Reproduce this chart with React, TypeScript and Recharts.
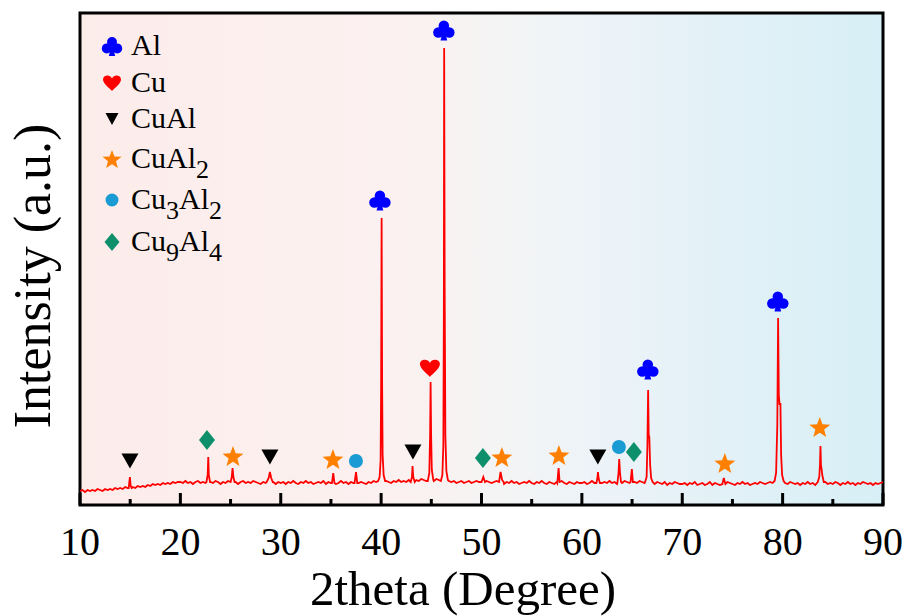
import React from "react"
import { ComposedChart, Line, Scatter, XAxis, YAxis, ReferenceArea, Legend } from "recharts"

const serif = "'Times New Roman', 'Liberation Serif', Times, serif"

// scan grid: 10° .. 90°, 0.25° step
const SCAN_START = 10
const SCAN_STEP = 0.25

// background intensity (a.u.), 40 readings per 10°
const bg10 = [14, 15, 13, 15, 14, 15, 14, 16, 15, 14, 16, 15, 16, 15, 17, 16, 17, 16, 18, 17, 17, 18, 17, 19, 18, 19, 18, 20, 19, 21, 20, 21, 20, 22, 21, 22, 21, 23, 22, 23]
const bg20 = [23, 22, 24, 22, 23, 21, 23, 24, 22, 23, 22, 24, 23, 22, 24, 23, 21, 23, 22, 24, 23, 22, 23, 21, 23, 24, 22, 23, 22, 24, 23, 22, 21, 23, 22, 24, 22, 23, 21, 23]
const bg30 = [22, 23, 21, 23, 22, 24, 22, 21, 23, 22, 24, 22, 23, 21, 22, 23, 22, 24, 21, 23, 22, 23, 21, 22, 24, 22, 23, 21, 23, 22, 24, 22, 23, 22, 21, 23, 22, 24, 23, 24]
const bg40 = [23, 22, 24, 23, 22, 24, 23, 25, 23, 24, 23, 25, 24, 23, 25, 24, 26, 25, 24, 26, 25, 24, 26, 25, 24, 23, 25, 24, 23, 24, 22, 23, 24, 22, 23, 24, 22, 23, 24, 23]
const bg50 = [23, 22, 24, 23, 22, 23, 24, 22, 23, 21, 23, 22, 24, 22, 23, 21, 22, 23, 22, 24, 22, 21, 23, 22, 24, 22, 21, 23, 22, 21, 23, 22, 24, 22, 21, 23, 22, 21, 23, 22]
const bg60 = [22, 23, 21, 22, 24, 22, 23, 21, 22, 23, 22, 24, 22, 23, 21, 23, 22, 24, 23, 22, 24, 23, 22, 24, 23, 22, 24, 23, 22, 21, 23, 22, 21, 23, 20, 22, 21, 23, 22, 21]
const bg70 = [21, 22, 20, 22, 21, 23, 20, 21, 22, 20, 21, 23, 20, 22, 21, 20, 22, 21, 23, 22, 21, 20, 22, 21, 23, 21, 22, 20, 21, 22, 21, 23, 22, 21, 22, 23, 22, 24, 23, 24]
const bg80 = [23, 22, 21, 23, 22, 21, 22, 20, 22, 21, 23, 21, 22, 20, 22, 21, 22, 23, 21, 22, 21, 23, 22, 20, 22, 21, 23, 21, 22, 20, 22, 21, 23, 22, 21, 22, 20, 22, 21, 22, 23]

// peak profiles [2theta, intensity]
const peak15 = [[14.85, 17], [14.97, 28], [15.05, 19], [15.15, 17]]
const peak22 = [[22.6, 23], [22.72, 30], [22.78, 48], [22.83, 30], [22.95, 23]]
const peak25 = [[25.0, 23], [25.12, 28], [25.2, 37], [25.28, 28], [25.4, 23]]
const peak29 = [[28.6, 23], [28.8, 27], [28.92, 33], [29.05, 27], [29.2, 23]]
const peak35 = [[35.1, 22], [35.23, 32], [35.35, 22]]
const peak37 = [[37.35, 22], [37.5, 33], [37.62, 22]]
const peak40 = [[39.7, 24], [39.85, 28], [39.95, 45], [40.0, 120], [40.05, 287], [40.1, 120], [40.15, 50], [40.25, 30], [40.4, 24]]
const peak43 = [[42.95, 23], [43.07, 28], [43.13, 39], [43.2, 28], [43.35, 23]]
const peak45 = [[44.65, 24], [44.8, 32], [44.88, 70], [44.93, 123], [44.98, 70], [45.05, 35], [45.2, 25]]
const peak46 = [[45.95, 24], [46.1, 30], [46.2, 60], [46.25, 200], [46.28, 457], [46.33, 220], [46.4, 70], [46.5, 34], [46.65, 25]]
const peak50 = [[50.0, 23], [50.18, 28], [50.35, 23]]
const peak52 = [[51.75, 23], [51.9, 33], [52.05, 25], [52.2, 23]]
const peak58 = [[57.55, 22], [57.68, 37], [57.78, 23]]
const peak62 = [[61.45, 22], [61.55, 27], [61.6, 33], [61.68, 26], [61.8, 22]]
const peak64 = [[63.55, 23], [63.65, 32], [63.72, 46], [63.8, 32], [63.9, 23]]
const peak65 = [[64.85, 23], [64.98, 36], [65.08, 23]]
const peak67 = [[66.3, 23], [66.45, 28], [66.53, 60], [66.6, 115], [66.66, 70], [66.72, 68], [66.8, 40], [66.9, 27], [67.05, 23]]
const peak74 = [[74.0, 21], [74.14, 27], [74.3, 21]]
const peak80 = [[79.2, 24], [79.35, 32], [79.47, 80], [79.55, 187], [79.62, 110], [79.7, 100], [79.78, 102], [79.85, 50], [79.95, 30], [80.1, 24]]
const peak84 = [[83.5, 23], [83.65, 28], [83.72, 40], [83.77, 59], [83.82, 40], [83.88, 36], [83.95, 30], [84.1, 23]]

const peaks = [peak15, peak22, peak25, peak29, peak35, peak37, peak40, peak43, peak45, peak46, peak50, peak52, peak58, peak62, peak64, peak65, peak67, peak74, peak80, peak84]

// phase markers [2theta, intensity]
const alMarks = [[39.88, 305], [46.25, 475], [66.57, 136], [79.52, 204]]
const cuMarks = [[44.86, 137]]
const cuAlMarks = [[14.98, 44], [28.92, 48], [43.17, 53], [61.59, 48]]
const cuAl2Marks = [[25.24, 49], [35.2, 46], [52.03, 48], [57.71, 50], [74.24, 42], [83.7, 78]]
const cu3Al2Marks = [[37.49, 44], [63.69, 58]]
const cu9Al4Marks = [[22.65, 65], [50.14, 47], [65.18, 53]]

const xTicks = [10, 15, 20, 25, 30, 35, 40, 45, 50, 55, 60, 65, 70, 75, 80, 85, 90]

const background = [...bg10, ...bg20, ...bg30, ...bg40, ...bg50, ...bg60, ...bg70, ...bg80].map((y, i) => ({
  x: SCAN_START + i * SCAN_STEP,
  y,
}))
const windows = peaks.map((p) => [p[0][0], p[p.length - 1][0]])
const scan = [
  ...background.filter((pt) => !windows.some(([a, b]) => pt.x >= a && pt.x <= b)),
  ...peaks.flat().map(([x, y]) => ({ x, y })),
].sort((a, b) => a.x - b.x)

const toPts = (arr: number[][]) => arr.map(([x, y]) => ({ x, y }))

// ---- symbols ----
function Club({ cx, cy, s, color }: any) {
  const r = 0.25 * s
  return (
    <g fill={color}>
      <circle cx={cx} cy={cy - 0.2 * s} r={r} />
      <circle cx={cx - 0.26 * s} cy={cy + 0.12 * s} r={r} />
      <circle cx={cx + 0.26 * s} cy={cy + 0.12 * s} r={r} />
      <path d={`M${cx - 0.05 * s},${cy + 0.05 * s} L${cx - 0.16 * s},${cy + 0.5 * s} L${cx + 0.16 * s},${cy + 0.5 * s} L${cx + 0.05 * s},${cy + 0.05 * s} Z`} />
    </g>
  )
}

function Heart({ cx, cy, s, color }: any) {
  const h = s / 2
  const d = `M${cx},${cy + 0.9 * h}
    C${cx - 0.2 * h},${cy + 0.6 * h} ${cx - h},${cy + 0.1 * h} ${cx - h},${cy - 0.4 * h}
    C${cx - h},${cy - 0.9 * h} ${cx - 0.2 * h},${cy - h} ${cx},${cy - 0.5 * h}
    C${cx + 0.2 * h},${cy - h} ${cx + h},${cy - 0.9 * h} ${cx + h},${cy - 0.4 * h}
    C${cx + h},${cy + 0.1 * h} ${cx + 0.2 * h},${cy + 0.6 * h} ${cx},${cy + 0.9 * h} Z`
  return <path d={d} fill={color} />
}

function TriDown({ cx, cy, w, h, color }: any) {
  return <path d={`M${cx - w / 2},${cy - h / 2} L${cx + w / 2},${cy - h / 2} L${cx},${cy + h / 2} Z`} fill={color} />
}

function Star({ cx, cy, R, color }: any) {
  const c = cy + 0.095 * R
  const pts: string[] = []
  for (let i = 0; i < 10; i++) {
    const r = i % 2 === 0 ? R : R * 0.42
    const a = -Math.PI / 2 + (i * Math.PI) / 5
    pts.push(`${cx + r * Math.cos(a)},${c + r * Math.sin(a)}`)
  }
  return <path d={`M${pts.join("L")}Z`} fill={color} />
}

function Dot({ cx, cy, r, color }: any) {
  return <circle cx={cx} cy={cy} r={r} fill={color} />
}

function Diamond({ cx, cy, w, h, color }: any) {
  return <path d={`M${cx},${cy - h / 2} L${cx + w / 2},${cy} L${cx},${cy + h / 2} L${cx - w / 2},${cy} Z`} fill={color} />
}

const BLUE = "#0000ff"
const RED = "#ff0000"
const ORANGE = "#ff8000"
const CYAN = "#1a9bd4"
const GREEN = "#0e8f6c"

// ---- legend ----
const legendRows = [
  { label: [["Al", false]], icon: (cx: number, cy: number) => <Club cx={cx} cy={cy} s={20} color={BLUE} /> },
  { label: [["Cu", false]], icon: (cx: number, cy: number) => <Heart cx={cx} cy={cy} s={18} color={RED} /> },
  { label: [["CuAl", false]], icon: (cx: number, cy: number) => <TriDown cx={cx} cy={cy} w={13} h={12} color="#000" /> },
  { label: [["CuAl", false], ["2", true]], icon: (cx: number, cy: number) => <Star cx={cx} cy={cy} R={10} color={ORANGE} /> },
  { label: [["Cu", false], ["3", true], ["Al", false], ["2", true]], icon: (cx: number, cy: number) => <Dot cx={cx} cy={cy} r={6.5} color={CYAN} /> },
  { label: [["Cu", false], ["9", true], ["Al", false], ["4", true]], icon: (cx: number, cy: number) => <Diamond cx={cx} cy={cy} w={15} h={18} color={GREEN} /> },
]
const legendBaselines = [42, 79, 115, 155, 196, 238]

function PhaseLegend() {
  return (
    <svg width={260} height={260} style={{ display: "block" }}>
      {legendRows.map((row, i) => {
        const base = legendBaselines[i]
        let sub = false
        return (
          <g key={i}>
            {row.icon(32, base - 9)}
            <text x={51} y={base} fontSize={30} fontFamily={serif} fill="#000">
              {row.label.map(([t, isSub], j) => {
                const dy = isSub && !sub ? 10 : !isSub && sub ? -10 : 0
                sub = isSub as boolean
                return (
                  <tspan key={j} dy={dy} fontSize={isSub ? 26 : 30}>
                    {t as string}
                  </tspan>
                )
              })}
            </text>
          </g>
        )
      })}
    </svg>
  )
}

function XTick({ x, y, payload }: any) {
  const major = payload.value % 10 === 0
  return (
    <g>
      <line x1={x} x2={x} y1={y} y2={y - (major ? 12 : 6)} stroke="#000" strokeWidth={3} />
      {major && (
        <text x={x} y={y + 50} textAnchor="middle" fontSize={40} fontFamily={serif} fill="#000">
          {payload.value}
        </text>
      )}
    </g>
  )
}

function AxisTitles() {
  return (
    <g>
      <text x={463} y={605} textAnchor="middle" fontSize={49} fontFamily={serif} fill="#000">
        2theta (Degree)
      </text>
      <text x={50} y={276} transform="rotate(-90 50 276)" textAnchor="middle" fontSize={52} fontFamily={serif} fill="#000">
        Intensity (a.u.)
      </text>
    </g>
  )
}

function Background({ x, y, width, height }: any) {
  return (
    <g>
      <defs>
        <linearGradient id="xrdBg" x1="0" y1="0" x2="1" y2="0">
          <stop offset="0" stopColor="#fcecea" />
          <stop offset="0.4" stopColor="#fbf1f0" />
          <stop offset="0.52" stopColor="#f4f4f4" />
          <stop offset="0.65" stopColor="#ecf3f8" />
          <stop offset="0.82" stopColor="#e1f1f7" />
          <stop offset="1" stopColor="#d7eff6" />
        </linearGradient>
      </defs>
      <rect x={x} y={y} width={width} height={height} fill="url(#xrdBg)" />
    </g>
  )
}

export default function App() {
  return (
    <div style={{ position: "absolute", left: 0, top: 0 }}>
      <ComposedChart width={911} height={616} data={scan} margin={{ top: 13, right: 28, bottom: 51, left: 80 }}>
        <XAxis
          type="number"
          dataKey="x"
          domain={[10, 90]}
          ticks={xTicks}
          interval={0}
          tickSize={0}
          tickMargin={0}
          tickLine={false}
          axisLine={false}
          tick={<XTick />}
          height={60}
          allowDataOverflow
          label={{ content: () => <AxisTitles /> }}
        />
        <YAxis type="number" dataKey="y" domain={[0, 492]} hide allowDataOverflow />
        <ReferenceArea x1={10} x2={90} y1={0} y2={492} shape={<Background />} />
        <Line type="linear" dataKey="y" stroke={RED} strokeWidth={1.8} dot={false} isAnimationActive={false} />
        <Scatter data={toPts(alMarks)} dataKey="y" isAnimationActive={false} shape={(p: any) => <Club cx={p.cx} cy={p.cy} s={21} color={BLUE} />} />
        <Scatter data={toPts(cuMarks)} dataKey="y" isAnimationActive={false} shape={(p: any) => <Heart cx={p.cx} cy={p.cy} s={20} color={RED} />} />
        <Scatter data={toPts(cuAlMarks)} dataKey="y" isAnimationActive={false} shape={(p: any) => <TriDown cx={p.cx} cy={p.cy} w={17} h={15} color="#000" />} />
        <Scatter data={toPts(cuAl2Marks)} dataKey="y" isAnimationActive={false} shape={(p: any) => <Star cx={p.cx} cy={p.cy} R={11} color={ORANGE} />} />
        <Scatter data={toPts(cu3Al2Marks)} dataKey="y" isAnimationActive={false} shape={(p: any) => <Dot cx={p.cx} cy={p.cy} r={7} color={CYAN} />} />
        <Scatter data={toPts(cu9Al4Marks)} dataKey="y" isAnimationActive={false} shape={(p: any) => <Diamond cx={p.cx} cy={p.cy} w={16} h={20} color={GREEN} />} />
        <ReferenceArea x1={10} x2={90} y1={0} y2={492} fill="none" fillOpacity={0} stroke="#000" strokeWidth={3} />
        <Legend
          layout="horizontal"
          verticalAlign="middle"
          align="center"
          wrapperStyle={{ left: 80, top: 13, width: 260, height: 260 }}
          content={() => <PhaseLegend />}
        />
      </ComposedChart>
    </div>
  )
}
